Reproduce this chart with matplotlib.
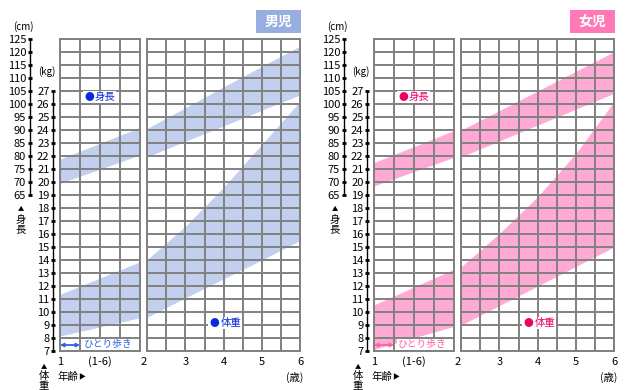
import matplotlib
matplotlib.use('Agg')
import matplotlib.pyplot as plt
import matplotlib.transforms as mtransforms
from matplotlib.patches import Rectangle

plt.rcParams['font.family'] = ['Noto Sans CJK JP', 'DejaVu Sans']

W, H = 630, 390

# 年齢（歳）
age_1 = [1, 2]
age_2 = [2, 3, 4, 5, 6]

# 男児  身長(cm) / 体重(kg)
boy_h_top_1 = [78.8, 91.0]
boy_h_bot_1 = [69.5, 80.4]
boy_w_top_1 = [11.36, 13.87]
boy_w_bot_1 = [8.15, 9.56]
boy_h_top_2 = [90.6, 98.6, 106.6, 114.5, 122.3]
boy_h_bot_2 = [79.7, 85.7, 91.6, 97.6, 103.5]
boy_w_top_2 = [14.05, 16.6, 19.6, 22.9, 26.2]
boy_w_bot_2 = [9.6, 11.1, 12.55, 14.0, 15.5]

# 女児
girl_h_top_1 = [77.5, 89.8]
girl_h_bot_1 = [68.5, 79.5]
girl_w_top_1 = [10.55, 13.3]
girl_w_bot_1 = [7.13, 8.9]
girl_h_top_2 = [90.0, 97.5, 105.0, 112.6, 120.1]
girl_h_bot_2 = [79.7, 85.8, 91.9, 98.0, 104.1]
girl_w_top_2 = [13.49, 16.05, 18.87, 22.2, 26.18]
girl_w_bot_2 = [9.0, 10.5, 12.0, 13.5, 15.0]

height_ticks = list(range(65, 130, 5))
weight_ticks = list(range(7, 28))

grid_c = '#808080'
fs = 8


def cm2u(h):
    # 5cm = 1kg の目盛り
    return h / 5 + 6


def fx(x):
    return x / W


def fy(y):
    return 1 - y / H


fig = plt.figure(figsize=(W / 100, H / 100), dpi=100)


def panel(x0, w, ages, htop, hbot, wtop, wbot, band):
    ax = fig.add_axes([fx(x0), fy(351), w / W, 312 / H])
    ax.set_ylim(7, 31)
    ax.set_xlim(ages[0], ages[-1])
    ax.fill_between(ages, [cm2u(v) for v in htop], [cm2u(v) for v in hbot],
                    color=band, lw=0, zorder=1)
    ax.fill_between(ages, wtop, wbot, color=band, lw=0, zorder=1)
    ax.set_yticks(range(7, 32))
    ax.set_yticklabels([])
    ax.set_axisbelow(False)
    ax.grid(which='both', color=grid_c, lw=1.4)
    ax.tick_params(which='both', length=0, labelsize=fs, pad=4)
    for s in ax.spines.values():
        s.set_color(grid_c)
        s.set_linewidth(1.4)
    return ax


def label(ax, xd, xt, y, txt, c):
    wb = dict(fc='white', ec='none', pad=0.8)
    ax.text(xt, y, txt, fontsize=7.5, color=c, ha='left', va='center', bbox=wb,
            zorder=3)
    ax.text(xd, y, '●', fontsize=7, color=c, ha='center', va='center', bbox=wb,
            zorder=4)


def chart(off, d, band, box_c, title, lab_c, walk_c):
    ax1 = panel(60 + off, 80, age_1, d[0], d[1], d[2], d[3], band)
    ax1.set_xticks([1, 1.5])
    ax1.set_xticklabels(['1', '(1-6)'])
    ax1.set_xticks([1.25, 1.75], minor=True)

    ax2 = panel(147.3 + off, 152.7, age_2, d[4], d[5], d[6], d[7], band)
    ax2.set_xticks([2, 3, 4, 5, 6])
    ax2.set_xticklabels(['2', '3', '4', '5', '6'])
    ax2.set_xticks([2.5, 3.5, 4.5, 5.5], minor=True)
    shift = mtransforms.ScaledTranslation(-3.5 / 100, 0, fig.dpi_scale_trans)
    lbl = ax2.get_xticklabels()[0]
    lbl.set_transform(lbl.get_transform() + shift)

    # 身長軸
    ah = fig.add_axes([fx(30 + off), fy(351), 1 / W, 312 / H])
    ah.set_ylim(7, 31)
    ah.patch.set_visible(False)
    for k in ['top', 'right', 'bottom']:
        ah.spines[k].set_visible(False)
    ah.spines['left'].set_bounds(cm2u(65), cm2u(125))
    ah.spines['left'].set_linewidth(1)
    ah.set_xticks([])
    ah.set_yticks([cm2u(v) for v in height_ticks])
    ah.set_yticklabels([str(v) for v in height_ticks])
    ah.tick_params(direction='inout', length=2.5, width=2, labelsize=fs, pad=1.5)

    # 体重軸
    aw = fig.add_axes([fx(53.3 + off), fy(351), 1 / W, 312 / H])
    aw.set_ylim(7, 31)
    aw.patch.set_visible(False)
    for k in ['top', 'right', 'bottom']:
        aw.spines[k].set_visible(False)
    aw.spines['left'].set_bounds(7, 27)
    aw.spines['left'].set_linewidth(1)
    aw.set_xticks([])
    aw.set_yticks(weight_ticks)
    aw.set_yticklabels([str(v) for v in weight_ticks])
    aw.tick_params(direction='inout', length=2.5, width=2, labelsize=fs, pad=1.5)

    fig.text(fx(23 + off), fy(27), '(cm)', fontsize=7, ha='center', va='center')
    fig.text(fx(47 + off), fy(72), '(kg)', fontsize=7, ha='center', va='center')
    fig.text(fx(21 + off), fy(209), '▲', fontsize=4.5, ha='center', va='center')
    fig.text(fx(21 + off), fy(219.5), '身', fontsize=7.5, ha='center', va='center')
    fig.text(fx(21 + off), fy(229.5), '長', fontsize=7.5, ha='center', va='center')
    fig.text(fx(44 + off), fy(367), '▲', fontsize=4.5, ha='center', va='center')
    fig.text(fx(44 + off), fy(376.5), '体', fontsize=7.5, ha='center', va='center')
    fig.text(fx(44 + off), fy(386.5), '重', fontsize=7.5, ha='center', va='center')
    fig.text(fx(57 + off), fy(377), '年齢', fontsize=7.5, ha='left', va='center')
    fig.text(fx(82 + off), fy(377), '▶', fontsize=5, ha='center', va='center')
    fig.text(fx(303 + off), fy(377), '(歳)', fontsize=7.5, ha='right', va='center')

    # 見出し
    fig.patches.append(Rectangle((fx(256 + off), fy(33)), 45 / W, 23 / H,
                                 transform=fig.transFigure, fc=box_c, ec='none'))
    fig.text(fx(278.5 + off), fy(21.5), title, fontsize=10, weight='bold',
             color='white', ha='center', va='center')

    label(ax1, 1.3625, 1.43, 26.54, '身長', lab_c)
    label(ax2, 3.747, 3.92, 9.15, '体重', lab_c)

    wb = dict(fc='white', ec='none', pad=0.6)
    ax1.annotate('', xy=(1.0, 7.46), xytext=(1.25, 7.46),
                 arrowprops=dict(arrowstyle='<->', color=walk_c, lw=1.3,
                                 shrinkA=0, shrinkB=0, mutation_scale=5))
    ax1.text(1.3, 7.5, 'ひとり歩き', fontsize=7, color=walk_c, ha='left',
             va='center', bbox=wb)


chart(0, [boy_h_top_1, boy_h_bot_1, boy_w_top_1, boy_w_bot_1,
          boy_h_top_2, boy_h_bot_2, boy_w_top_2, boy_w_bot_2],
      '#c3cfee', '#98ade0', '男児', '#0a28e0', '#2e60e6')
chart(314, [girl_h_top_1, girl_h_bot_1, girl_w_top_1, girl_w_bot_1,
            girl_h_top_2, girl_h_bot_2, girl_w_top_2, girl_w_bot_2],
      '#ffaad4', '#ff79b6', '女児', '#ee0066', '#ff5fa6')

fig.savefig('out.png', dpi=100)
